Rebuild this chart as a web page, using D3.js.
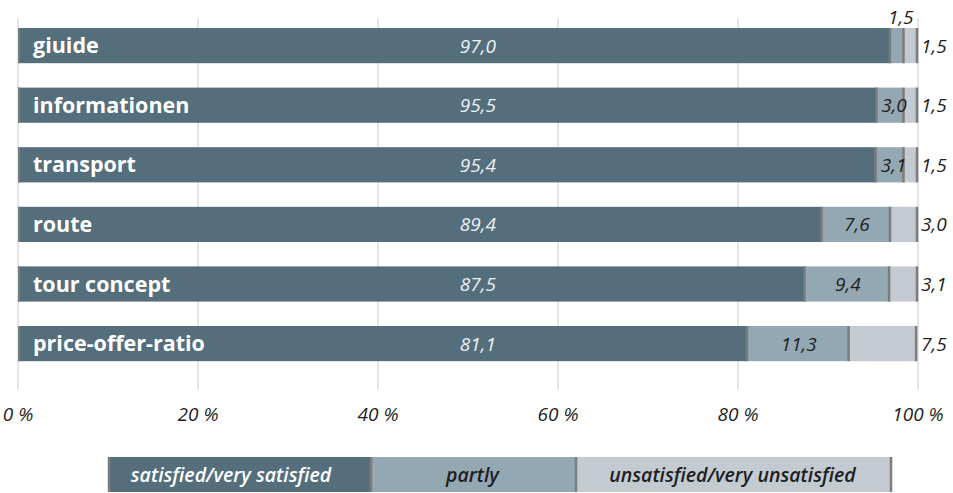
<!DOCTYPE html>
<html>
<head>
<meta charset="utf-8">
<script src="https://cdn.jsdelivr.net/npm/d3@7"></script>
<style>
  html, body { margin: 0; padding: 0; background: #fff; }
  svg { display: block; font-family: "Open Sans", "Noto Sans", sans-serif; }
</style>
</head>
<body>
<svg id="chart" width="953" height="493"></svg>
<script>
// Survey satisfaction per topic (percent)
const categories = ["giuide", "informationen", "transport", "route", "tour concept", "price-offer-ratio"];
const satisfied   = [97.0, 95.5, 95.4, 89.4, 87.5, 81.1];
const partly      = [1.5, 3.0, 3.1, 7.6, 9.4, 11.3];
const unsatisfied = [1.5, 1.5, 1.5, 3.0, 3.1, 7.5];
const seriesNames = ["satisfied/very satisfied", "partly", "unsatisfied/very unsatisfied"];
const tickValues  = [0, 20, 40, 60, 80, 100];

const colors = ["#546e7b", "#94a8b3", "#c3cad1"];
const sepColor = "#7c7c7c";
const fmt = v => v.toFixed(1).replace(".", ",");

const svg = d3.select("#chart");

const x = d3.scaleLinear().domain([0, 100]).range([18, 918]);
const y = d3.scaleBand().domain(categories).range([15.8, 373.4])
  .paddingInner(0.41).paddingOuter(0.205);

const rows = categories.map((c, i) => {
  const vals = [satisfied[i], partly[i], unsatisfied[i]];
  let acc = 0;
  const segs = vals.map((v, k) => {
    const s = { cat: c, k, v, x0: acc, x1: acc + v };
    acc += v;
    return s;
  });
  return { cat: c, segs };
});

// Grid lines
svg.append("g").selectAll("line").data(tickValues).join("line")
  .attr("x1", d => x(d)).attr("x2", d => x(d))
  .attr("y1", 18).attr("y2", 390)
  .attr("stroke", "#dcdcdc").attr("stroke-width", 1.5);

// Bars
const rowG = svg.append("g").selectAll("g").data(rows).join("g");

rowG.selectAll("rect.seg").data(r => r.segs).join("rect")
  .attr("class", "seg")
  .attr("x", d => x(d.x0))
  .attr("width", d => x(d.x1) - x(d.x0))
  .attr("y", d => y(d.cat))
  .attr("height", y.bandwidth())
  .attr("fill", d => colors[d.k]);

// Segment separators (left edge and right end of each segment)
rowG.append("line")
  .attr("x1", x(0) + 1).attr("x2", x(0) + 1)
  .attr("y1", r => y(r.cat)).attr("y2", r => y(r.cat) + y.bandwidth())
  .attr("stroke", sepColor).attr("stroke-width", 2);
rowG.selectAll("line.sep").data(r => r.segs).join("line")
  .attr("class", "sep")
  .attr("x1", d => Math.min(x(d.x1), x(100)) - 1)
  .attr("x2", d => Math.min(x(d.x1), x(100)) - 1)
  .attr("y1", d => y(d.cat)).attr("y2", d => y(d.cat) + y.bandwidth())
  .attr("stroke", sepColor).attr("stroke-width", 2.5);

// Category labels
rowG.append("text")
  .attr("x", 33)
  .attr("y", r => y(r.cat) + y.bandwidth() / 2 + 7.5)
  .attr("fill", "#fff")
  .attr("font-weight", 700)
  .attr("font-size", 21.5)
  .text(r => r.cat);

// Value labels
const mid = r => y(r.cat) + y.bandwidth() / 2 + 7;
rowG.append("text")
  .attr("x", x(51.1))
  .attr("y", mid)
  .attr("text-anchor", "middle")
  .attr("font-style", "italic").attr("font-size", 19)
  .attr("fill", "#eef1f3")
  .text(r => fmt(r.segs[0].v));

rowG.append("text")
  .attr("x", r => x((r.segs[1].x0 + r.segs[1].x1) / 2) + (r.segs[1].v < 5 ? 3 : 0))
  .attr("y", r => r.segs[1].v < 2 ? y(r.cat) - 4 : mid(r))
  .attr("text-anchor", "middle")
  .attr("font-style", "italic").attr("font-size", 19)
  .attr("fill", "#1e1e1e")
  .text(r => fmt(r.segs[1].v));

rowG.append("text")
  .attr("x", x(100) + 3)
  .attr("y", mid)
  .attr("font-style", "italic").attr("font-size", 19)
  .attr("fill", "#1e1e1e")
  .text(r => fmt(r.segs[2].v));

// Axis labels
svg.append("g").selectAll("text").data(tickValues).join("text")
  .attr("x", d => x(d))
  .attr("y", 421)
  .attr("text-anchor", "middle")
  .attr("font-style", "italic").attr("font-size", 19)
  .attr("fill", "#1e1e1e")
  .text(d => d + " %");

// Legend
const legendEdges = [108, 370, 575, 890];
const lg = svg.append("g");
const items = seriesNames.map((n, k) => ({ n, k, a: legendEdges[k], b: legendEdges[k + 1] }));
lg.selectAll("rect").data(items).join("rect")
  .attr("x", d => d.a).attr("width", d => d.b - d.a)
  .attr("y", 457).attr("height", 35)
  .attr("fill", d => colors[d.k]);
lg.selectAll("line").data(legendEdges).join("line")
  .attr("x1", d => d + 1).attr("x2", d => d + 1)
  .attr("y1", 457).attr("y2", 492)
  .attr("stroke", sepColor).attr("stroke-width", 2.5);
lg.selectAll("text").data(items).join("text")
  .attr("x", d => (d.a + d.b) / 2 - (d.k === 0 ? 8 : 0))
  .attr("y", 482)
  .attr("text-anchor", "middle")
  .attr("font-style", "italic").attr("font-weight", 600).attr("font-size", 19.5)
  .attr("fill", d => d.k === 0 ? "#fff" : "#1e1e1e")
  .text(d => d.n);
</script>
</body>
</html>
